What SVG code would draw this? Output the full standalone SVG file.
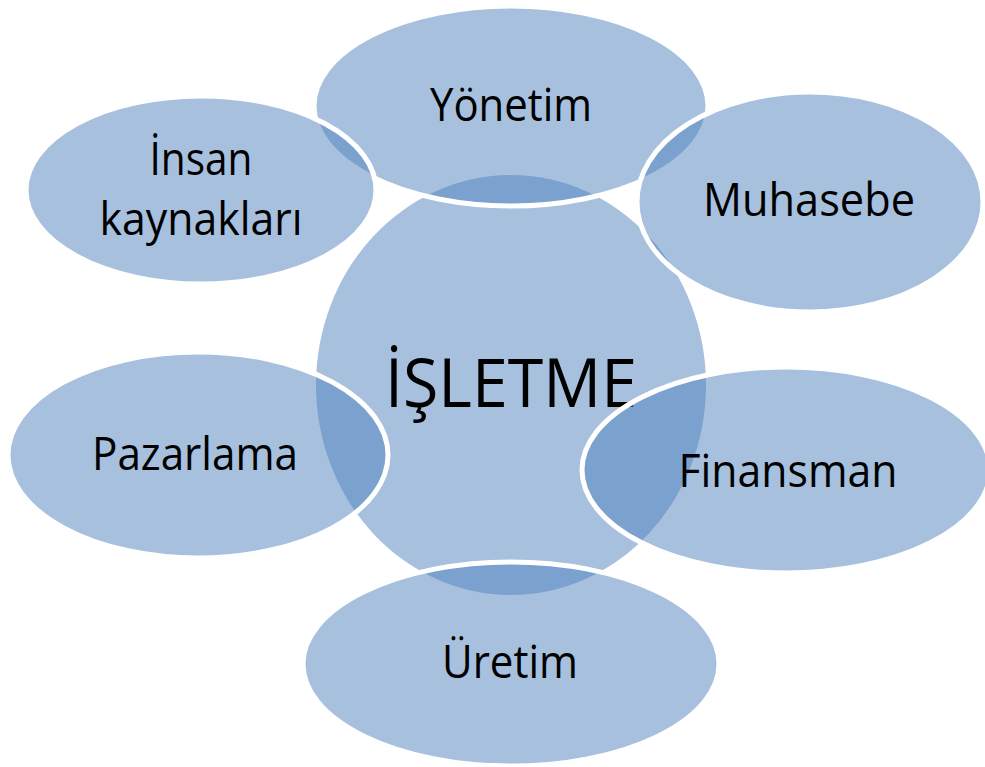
<svg xmlns="http://www.w3.org/2000/svg" width="985" height="767" viewBox="0 0 985 767">
<style>
.sh{fill:#4F81BD;fill-opacity:0.5;stroke:#FFFFFF;stroke-width:5}
.c{fill:none;stroke:none}
text{font-family:"Open Sans","Liberation Sans",sans-serif;fill:#000000;text-anchor:middle}
.t{font-size:45px}
.big{font-size:68px}
</style>
<rect width="985" height="767" fill="#FFFFFF"/>
<g id="isletme">
<ellipse class="sh" cx="511" cy="385" rx="195" ry="210" style="stroke:none"/>
<text class="big" x="511" y="407" textLength="252" lengthAdjust="spacingAndGlyphs">İŞLETME</text>
</g>
<g id="yonetim">
<ellipse class="sh" cx="511" cy="106" rx="197" ry="100"/>
<text class="t" x="511" y="121" textLength="162" lengthAdjust="spacingAndGlyphs">Yönetim</text>
</g>
<g id="insan">
<ellipse class="sh" cx="201" cy="190" rx="175" ry="94"/>
<text class="t" x="201" y="175" textLength="103" lengthAdjust="spacingAndGlyphs">İnsan</text>
<text class="t" x="201" y="235" textLength="203" lengthAdjust="spacingAndGlyphs">kaynakları</text>
</g>
<g id="muhasebe">
<ellipse class="sh" cx="810" cy="202" rx="173" ry="110"/>
<text class="t" x="809" y="216" textLength="212" lengthAdjust="spacingAndGlyphs">Muhasebe</text>
</g>
<g id="pazarlama">
<ellipse class="sh" cx="198" cy="455" rx="190" ry="103"/>
<text class="t" x="195" y="470" textLength="206" lengthAdjust="spacingAndGlyphs">Pazarlama</text>
</g>
<g id="finansman">
<ellipse class="sh" cx="786" cy="470" rx="204" ry="103"/>
<text class="t" x="788" y="487" textLength="219" lengthAdjust="spacingAndGlyphs">Finansman</text>
</g>
<g id="uretim">
<ellipse class="sh" cx="511" cy="664" rx="208" ry="102"/>
<text class="t" x="510" y="678" textLength="136" lengthAdjust="spacingAndGlyphs">Üretim</text>
</g>
<g id="connectors"></g>
</svg>
